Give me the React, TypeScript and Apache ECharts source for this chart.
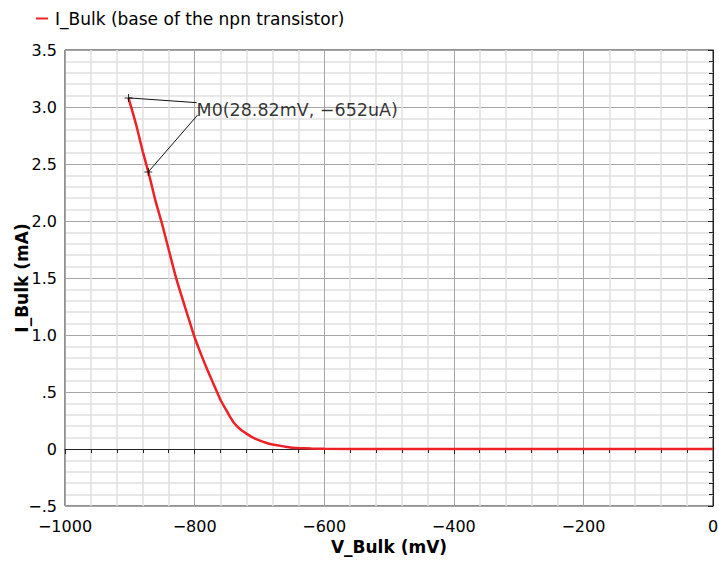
import React, { useEffect, useRef } from "react";
import * as echarts from "echarts";

// Bulk sweep of the npn base: voltage (mV) vs. current (mA)
const bulkVoltage = [
  -902, -890, -880, -870, -860, -850, -840, -830, -820, -810, -800, -790, -780,
  -770, -760, -750, -745, -740, -730, -720, -710, -700, -690, -680, -670, -660,
  -650, -640, -620, -600, -500, -400, -300, -200, -100, 0,
];
const bulkCurrent = [
  3.08, 2.84, 2.61, 2.4, 2.17, 1.97, 1.75, 1.53, 1.34, 1.16, 0.98, 0.83, 0.69,
  0.56, 0.43, 0.33, 0.28, 0.235, 0.175, 0.135, 0.1, 0.075, 0.055, 0.04, 0.03,
  0.02, 0.012, 0.008, 0.004, 0.002, 0, 0, 0, 0, 0, 0,
];

// Marker M0 crosses and the anchor points of its callout
const markerPoints = [
  [-902, 3.08],
  [-871.5, 2.43],
];
const calloutAnchors = [
  [-796.8, 3.038],
  [-795.3, 2.93],
];
const calloutPosition = [-797, 2.975];
const calloutText = "M0(28.82mV, \u2212652uA)";

const seriesName = "I_Bulk (base of the npn transistor)";
const xAxisName = "V_Bulk (mV)";
const yAxisName = "I_Bulk (mA)";

const FONT = "DejaVu Sans";
const INK = "#000";
const MINUS = "\u2212";

const fmtX = (v: number) => String(v).replace("-", MINUS);
const fmtY = (v: number) => {
  if (Math.abs(v) < 1e-9) return "0";
  let s = v.toFixed(1);
  if (Math.abs(v) < 1) s = s.replace("0.", ".");
  return s.replace("-", MINUS);
};

const PLUS = "path://M3.5,0h1v8h-1z M0,3.5h8v1h-8z";

export default function App() {
  const ref = useRef<HTMLDivElement>(null);

  useEffect(() => {
    if (!ref.current) return;
    const chart = echarts.init(ref.current, undefined, { renderer: "svg" });

    const curve = bulkVoltage.map((v, i) => [v, bulkCurrent[i]]);

    const axisCommon = {
      axisLine: { show: true, lineStyle: { color: "#222", width: 1 } },
      axisTick: { show: true, inside: false, length: 5, lineStyle: { color: "#222" } },
      minorTick: { show: true, splitNumber: 5, length: 4, lineStyle: { color: "#222" } },
      splitLine: { show: true, lineStyle: { color: "#a6a6a6", width: 1 } },
      minorSplitLine: { show: true, lineStyle: { color: "#e1e1e1", width: 1.5 } },
      nameLocation: "middle" as const,
      nameMoveOverlap: false,
      nameTextStyle: { fontFamily: FONT, fontSize: 17, fontWeight: "bold" as const, color: INK },
    };

    chart.setOption({
      animation: false,
      backgroundColor: "#fff",
      grid: {
        left: 65,
        right: 6,
        top: 50,
        bottom: 57,
        containLabel: false,
        outerBoundsMode: "none",
        show: true,
        borderColor: "#222",
        borderWidth: 1,
        backgroundColor: "#fff",
      },
      legend: {
        data: [seriesName],
        left: 31,
        top: 5,
        icon: "rect",
        itemWidth: 12,
        itemHeight: 2,
        itemGap: 10,
        textStyle: { fontFamily: FONT, fontSize: 17, color: INK, padding: [0, 0, 0, 2] },
      },
      xAxis: {
        ...axisCommon,
        type: "value",
        min: -1000,
        max: 0,
        interval: 200,
        name: xAxisName,
        nameGap: 32,
        axisLabel: { margin: 12, fontFamily: FONT, fontSize: 16, color: INK, formatter: fmtX },
      },
      yAxis: {
        ...axisCommon,
        type: "value",
        min: -0.5,
        max: 3.5,
        interval: 0.5,
        name: yAxisName,
        nameGap: 35,
        axisLabel: { margin: 8, fontFamily: FONT, fontSize: 16, color: INK, formatter: fmtY },
      },
      series: [
        {
          name: seriesName,
          type: "line",
          data: curve,
          showSymbol: false,
          symbol: "none",
          smooth: 0.2,
          lineStyle: { color: "#ee2226", width: 2.5 },
          itemStyle: { color: "#ee2226" },
          z: 3,
        },
        {
          name: "M0",
          type: "scatter",
          data: markerPoints,
          symbol: PLUS,
          symbolSize: 8,
          itemStyle: { color: "#000" },
          z: 5,
          markLine: {
            silent: true,
            symbol: "none",
            label: { show: false },
            lineStyle: { color: "#111", width: 1, type: "solid" },
            data: markerPoints.map((p, i) => [
              { coord: p },
              { coord: calloutAnchors[i] },
            ]),
          },
        },
        {
          name: "M0 label",
          type: "scatter",
          data: [calloutPosition],
          symbolSize: 0,
          z: 6,
          label: {
            show: true,
            position: "right",
            distance: 0,
            formatter: calloutText,
            fontFamily: FONT,
            fontSize: 17.5,
            color: INK,
          },
        },
      ],
    });

    return () => chart.dispose();
  }, []);

  return (
    <div
      ref={ref}
      style={{ position: "absolute", left: 0, top: 0, width: 719, height: 563 }}
    />
  );
}
